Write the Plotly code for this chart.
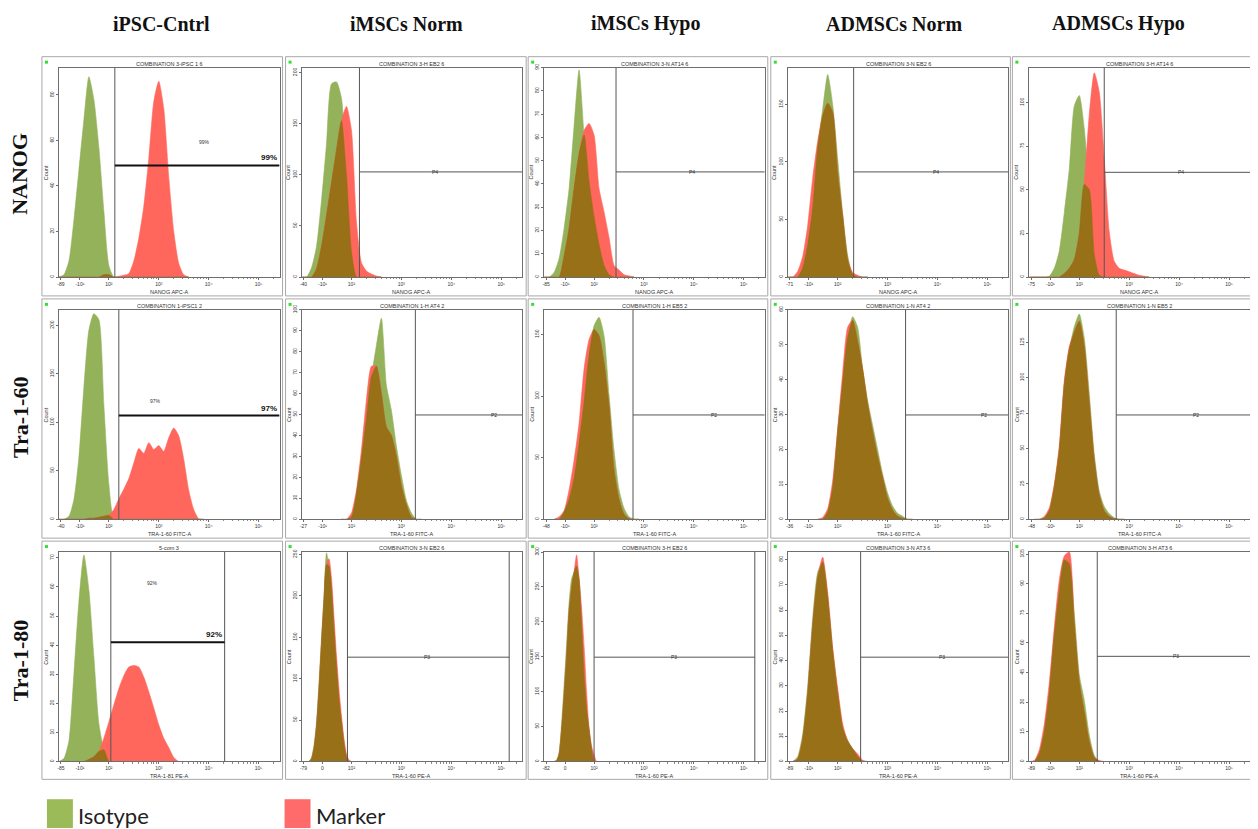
import numpy as np
import plotly.graph_objects as go

W, H = 1258, 829          # target picture size
OFF = 8                   # default page margin around the plot div
FIG_W, FIG_H = W - OFF, H - OFF

COLUMNS = ["iPSC-Cntrl", "iMSCs Norm", "iMSCs Hypo", "ADMSCs Norm", "ADMSCs Hypo"]
MARKERS = ["NANOG", "Tra-1-60", "Tra-1-80"]

PANEL_TITLES = [
    ["COMBINATION 3-iPSC 1 6", "COMBINATION 3-H EB2 6", "COMBINATION 3-N AT14 6",
     "COMBINATION 3-N EB2 6", "COMBINATION 3-H AT14 6"],
    ["COMBINATION 1-iPSC1 2", "COMBINATION 1-H AT4 2", "COMBINATION 1-H EB5 2",
     "COMBINATION 1-N AT4 2", "COMBINATION 1-N EB5 2"],
    ["5-com 3", "COMBINATION 3-N EB2 6", "COMBINATION 3-H EB2 6",
     "COMBINATION 3-N AT3 6", "COMBINATION 3-H AT3 6"],
]
X_TITLES = [
    ["NANOG APC-A"] * 5,
    ["TRA-1-60 FITC-A"] * 5,
    ["TRA-1-81 PE-A"] + ["TRA-1-60 PE-A"] * 4,
]
FIRST_TICK = [["-89", "-40", "-85", "-71", "-75"],
              ["-40", "-27", "-48", "-36", "-48"],
              ["-85", "-79", "-82", "-89", "-89"]]
SECOND_TICK = [["-10¹"] * 5,
               ["-10¹"] * 5,
               ["-10¹", "0", "0", "-10¹", "-10¹"]]
DECADE_TICKS = ["10²", "10³", "10⁴", "10⁵"]

# histogram bins (log decades): first bin centre and bin width per panel
BIN_START = [[1.0, 1.0, 1.0, 1.0, 1.0],
             [1.0, 1.8, 1.2, 1.6, 1.1],
             [1.0, 1.10, 1.15, 1.0, 1.0]]
BIN_STEP = [[0.1, 0.1, 0.1, 0.1, 0.1],
            [0.1, 0.1, 0.1, 0.1, 0.1],
            [0.1, 0.05, 0.05, 0.1, 0.1]]

NANOG_ISOTYPE = [
    [0, 1, 7, 25, 47, 69, 88, 78, 57, 29, 5, 0, 0, 0, 0, 0, 0, 0, 0, 0, 0, 0, 0, 0, 0, 0, 0],
    [0, 0, 9, 30, 75, 130, 189, 191, 175, 100, 25, 0, 0, 0, 0, 0, 0],
    [0, 0, 2, 8, 21, 38, 65, 89, 61, 41, 26, 14, 5, 1, 0, 0, 0, 0, 0],
    [0, 0, 0, 8, 28, 60, 112, 146, 176, 150, 103, 55, 19, 2, 0, 0, 0],
    [0, 0, 0, 0, 0.5, 5, 15, 37, 62, 98, 104, 85, 50, 13, 1, 0, 0, 0, 0, 0, 0, 0, 0, 0, 0],
]
NANOG_MARKER = [
    [0, 0, 0, 0, 0, 0, 0, 0, 0, 1, 1, 0, 0.3, 0.8, 1.5, 7, 17, 31, 52, 77, 86, 74, 44, 20, 6, 1, 0],
    [0, 0, 0, 8, 30, 60, 92, 124, 153, 167, 144, 54, 14, 6, 3, 1, 0],
    [0, 0, 0, 0, 9, 21, 38, 53, 63, 66, 61, 38, 28, 17, 5, 3, 1, 0.5, 0],
    [0, 0, 5, 18, 45, 86, 118, 140, 151, 143, 90, 53, 15, 4, 1.5, 0, 0],
    [0, 0, 0, 0, 0, 0, 0, 2, 5, 10, 25, 53, 93, 117, 106, 68, 26, 9, 5, 4, 3, 2, 1, 0.5, 0],
]
TRA160_ISOTYPE = [
    [0, 0, 3, 20, 64, 136, 195, 212, 206, 118, 36, 0, 0, 0, 0, 0, 0, 0, 0, 0, 0, 0, 0, 0, 0, 0, 0, 0, 0, 0],
    [0, 0, 1, 12, 29, 48, 68, 83, 96, 64, 52, 35, 21, 9, 3, 0, 0],
    [0, 0, 6, 16, 33, 62, 95, 133, 157, 164, 149, 101, 56, 24, 9, 2, 0, 0],
    [0, 0, 2, 9, 25, 39, 52, 58, 55, 43, 34, 27, 20, 13, 7.5, 3.8, 1.7, 0.9, 0, 0],
    [0, 0, 1, 6, 23, 49, 95, 120, 136, 145, 128, 89, 46, 20, 9, 4, 1, 0, 0],
]
TRA160_MARKER = [
    [0, 0, 0, 0, 0, 0, 1, 1, 2, 3, 4, 10, 21, 31, 42, 58, 73, 68, 79, 72, 76, 70, 84, 94, 86, 62, 30, 10, 0.5, 0],
    [0, 0, 3, 14, 33, 57, 73, 73, 60, 44, 40, 30, 16, 7, 1, 0, 0],
    [0, 2, 7, 24, 48, 78, 122, 146, 154, 149, 127, 92, 40, 16, 4, 0.5, 0, 0],
    [0, 0.5, 3, 11, 26, 42, 55, 57, 51, 43, 33, 25, 18, 12, 6, 2.6, 0.9, 0.3, 0, 0],
    [0, 0, 2, 8, 25, 52, 98, 122, 132, 140, 122, 82, 42, 17, 6, 2, 0.5, 0, 0],
]
TRA180_ISOTYPE = [
    [0, 1, 7, 30, 55, 71, 59, 36, 13, 4, 0, 0, 0, 0, 0, 0, 0, 0, 0, 0, 0, 0, 0, 0, 0, 0],
    [0, 0, 5, 20, 48, 95, 150, 200, 252, 236, 209, 160, 115, 75, 48, 22, 5, 0, 0],
    [0, 0, 2, 14, 55, 110, 168, 228, 262, 271, 280, 260, 195, 124, 75, 45, 18, 0, 0, 0],
    [0, 0, 2, 11, 30, 57, 75, 79, 65, 44, 27, 13.4, 8.5, 5, 2, 0, 0],
    [0, 0, 4, 15, 35, 64, 86, 102, 100, 75, 44, 31, 13.5, 3, 0, 0],
]
TRA180_MARKER = [
    [0, 0, 0, 0, 0, 0, 0.7, 1.6, 3.4, 8, 13.6, 19.4, 25, 29.5, 32.5, 33, 32.5, 29, 24, 18.4, 12.6, 8, 4.8, 1.4, 0, 0],
    [0, 0, 3, 16, 42, 88, 142, 195, 238, 245, 222, 175, 128, 88, 55, 28, 9, 2, 0],
    [0, 0, 1, 10, 45, 95, 150, 215, 248, 272, 296, 262, 220, 165, 100, 48, 22, 10, 0, 0],
    [0, 0, 1, 9, 27, 54, 73, 81, 67, 45, 29, 15, 8, 5, 3, 0.5, 0],
    [0, 0.5, 6, 19, 40, 68, 92, 104, 106, 70, 40, 25, 10, 2, 0.5, 0],
]
ISOTYPE = [NANOG_ISOTYPE, TRA160_ISOTYPE, TRA180_ISOTYPE]
MARKER = [NANOG_MARKER, TRA160_MARKER, TRA180_MARKER]

Y_MAX = [[92, 205, 90, 182, 120], [216, 100, 170, 60, 148], [72, 253, 300, 83, 106]]
Y_DTICK = [[20, 50, 10, 50, 25], [50, 10, 50, 10, 25], [10, 50, 50, 10, 15]]

# gates (x in decades, y as fraction of plot height)
GATE_X = [[2.12, 2.16, 2.44, 2.32, 2.50], [2.20, 3.28, 2.78, 3.36, 2.74], [2.04, 1.92, 2.00, 2.46, 2.36]]
GATE_RIGHT = [[None, None, None, None, None], [None] * 5, [4.32, 5.16, 5.22, None, None]]
GATE_Y = [[0.533, 0.502, 0.502, 0.502, 0.50], [0.495, 0.498, 0.498, 0.498, 0.498],
          [0.569, 0.498, 0.498, 0.498, 0.502]]
GATE_NAME = [["99%", "P4", "P4", "P4", "P4"], ["97%", "P2", "P2", "P2", "P2"], ["92%", "P3", "P3", "P3", "P3"]]
GATE_LABEL_X = [[3.92, 3.68, 3.96, 3.96, 4.04], [2.94, 4.86, 4.40, 4.94, 4.34], [2.88, 3.52, 3.60, 4.08, 3.94]]
PCT_LABEL_Y = [0.646, 0.567, 0.853]

GREEN, RED, BROWN = "#93b25a", "#ff675d", "#977017"

# layout geometry (pixels in the target picture)
FRAME_LEFT = [57, 300, 543, 787, 1029]
FRAME_TOP = [63, 307, 551]
FW, FH = 221, 211
BOX_LEFT = [40, 284, 527, 770, 1012]
BOX_RIGHT = [281, 525, 767, 1010, 1255]
BOX_TOP = [52, 296, 540]
BOX_BOTTOM = [293, 537, 780]
X_MAX = 1.0 + FW / 50.0


def px(x):
    return (x - OFF) / FIG_W


def py(y):
    return 1 - (y - OFF) / FIG_H


fig = go.Figure()
axes = {}
ann = []
shapes = []
SMALL = dict(family="Liberation Sans", size=5, color="#333333")
minor_vals = [d + np.log10(k) for d in (2, 3, 4) for k in range(2, 10)] + [5 + np.log10(2)]


def note(x, y, text, font, **kw):
    d = dict(xref="paper", yref="paper", x=x, y=y, text=text, showarrow=False,
             xanchor="center", yanchor="middle", font=font)
    d.update(kw)
    ann.append(d)


for r in range(3):
    for c in range(5):
        n = r * 5 + c + 1
        xa = "x" if n == 1 else f"x{n}"
        ya = "y" if n == 1 else f"y{n}"
        xk = "xaxis" if n == 1 else f"xaxis{n}"
        yk = "yaxis" if n == 1 else f"yaxis{n}"
        l, t = FRAME_LEFT[c], FRAME_TOP[r]

        iso = np.array(ISOTYPE[r][c], dtype=float)
        mk = np.array(MARKER[r][c], dtype=float)
        bins = BIN_START[r][c] + BIN_STEP[r][c] * np.arange(len(iso))
        both = np.minimum(iso, mk)
        for yv, col in ((iso, GREEN), (mk, RED), (both, BROWN)):
            fig.add_trace(go.Scatter(
                x=bins, y=yv, xaxis=xa, yaxis=ya, mode="lines",
                line=dict(color=col, width=0.6, shape="spline", smoothing=0.6),
                fill="tozeroy", fillcolor=col, hoverinfo="skip", showlegend=False))

        axes[xk] = dict(
            domain=[px(l), px(l + FW)], range=[1.0, X_MAX], anchor=ya,
            showgrid=False, zeroline=False, showline=True, mirror=True,
            linecolor="#6e6e6e", linewidth=1, ticks="outside", ticklen=2,
            tickcolor="#6e6e6e", tickvals=[1.04, 1.42, 2, 3, 4, 5],
            ticktext=[FIRST_TICK[r][c], SECOND_TICK[r][c]] + DECADE_TICKS,
            tickfont=SMALL, fixedrange=True,
            minor=dict(tickvals=minor_vals, ticks="outside", ticklen=1.2, tickcolor="#8a8a8a"))
        ymax = Y_MAX[r][c]
        axes[yk] = dict(
            domain=[py(t + FH), py(t)], range=[0, ymax], anchor=xa,
            showgrid=False, zeroline=False, showline=True, mirror=True,
            linecolor="#6e6e6e", linewidth=1, ticks="outside", ticklen=2,
            tickcolor="#6e6e6e", tickvals=list(range(0, int(ymax) + 1, Y_DTICK[r][c])),
            tickangle=-90, tickfont=SMALL, fixedrange=True)

        # outer panel box and status square
        shapes.append(dict(type="rect", xref="paper", yref="paper",
                           x0=px(BOX_LEFT[c]), x1=px(BOX_RIGHT[c]),
                           y0=py(BOX_BOTTOM[r]), y1=py(BOX_TOP[r]),
                           line=dict(color="#a8a8a8", width=1)))
        shapes.append(dict(type="rect", xref="paper", yref="paper",
                           x0=px(BOX_LEFT[c] + 3), x1=px(BOX_LEFT[c] + 6),
                           y0=py(BOX_TOP[r] + 7), y1=py(BOX_TOP[r] + 4),
                           line=dict(width=0), fillcolor="#33dd33"))

        # gates
        gx = GATE_X[r][c]
        gy = GATE_Y[r][c]
        gright = GATE_RIGHT[r][c] if GATE_RIGHT[r][c] is not None else X_MAX
        shapes.append(dict(type="line", xref=xa, yref=f"{ya} domain", x0=gx, x1=gx, y0=0, y1=1,
                           line=dict(color="#555555", width=1)))
        if GATE_RIGHT[r][c] is not None:
            shapes.append(dict(type="line", xref=xa, yref=f"{ya} domain", x0=gright, x1=gright,
                               y0=0, y1=1, line=dict(color="#555555", width=1)))
        if c == 0:
            shapes.append(dict(type="line", xref=xa, yref=f"{ya} domain", x0=gx, x1=gright,
                               y0=gy, y1=gy, line=dict(color="#111111", width=2)))
            ann.append(dict(xref=xa, yref=f"{ya} domain", x=gright - 0.02, y=gy + 0.005,
                            text=f"<b>{GATE_NAME[r][c]}</b>", showarrow=False,
                            xanchor="right", yanchor="bottom",
                            font=dict(family="Liberation Sans", size=8, color="#111111")))
            ann.append(dict(xref=xa, yref=f"{ya} domain", x=GATE_LABEL_X[r][c], y=PCT_LABEL_Y[r],
                            text=GATE_NAME[r][c], showarrow=False, xanchor="center",
                            yanchor="middle", font=SMALL))
        else:
            shapes.append(dict(type="line", xref=xa, yref=f"{ya} domain", x0=gx, x1=gright,
                               y0=gy, y1=gy, line=dict(color="#555555", width=1)))
            ann.append(dict(xref=xa, yref=f"{ya} domain", x=GATE_LABEL_X[r][c], y=gy,
                            text=GATE_NAME[r][c], showarrow=False, xanchor="center",
                            yanchor="middle", font=SMALL))

        # panel texts
        tiny = dict(family="Liberation Sans", size=5.5, color="#333333")
        note(px(l + FW / 2), py(t - 4), PANEL_TITLES[r][c], tiny)
        note(px(l + FW / 2), py(t + FH + 15), X_TITLES[r][c], tiny)
        note(px(l - 13), py(t + FH / 2), "Count", tiny, textangle=-90)

COL_X = [160, 405, 645, 893, 1118]
for name, x in zip(COLUMNS, COL_X):
    note(px(x), py(19), f"<b>{name}</b>", dict(family="Liberation Serif", size=20, color="#111111"))
ROW_Y = [170, 415, 660]
for name, y in zip(MARKERS, ROW_Y):
    note(px(18), py(y), f"<b>{name}</b>", dict(family="Liberation Serif", size=22, color="#111111"),
         textangle=-90)

# legend
LEGEND = [("Isotype", "#9bbb59", 45), ("Marker", "#ff6b6b", 283)]
for label, col, x in LEGEND:
    shapes.append(dict(type="rect", xref="paper", yref="paper", x0=px(x), x1=px(x + 26),
                       y0=py(829), y1=py(800), line=dict(width=0), fillcolor=col))
    note(px(x + 29), py(816), label, dict(family="Lato", size=22, color="#222222"),
         xanchor="left")

fig.update_layout(
    width=FIG_W, height=FIG_H, margin=dict(l=0, r=0, t=0, b=0),
    paper_bgcolor="white", plot_bgcolor="white", showlegend=False,
    annotations=ann, shapes=shapes, **axes)

fig.write_html("out.html")
